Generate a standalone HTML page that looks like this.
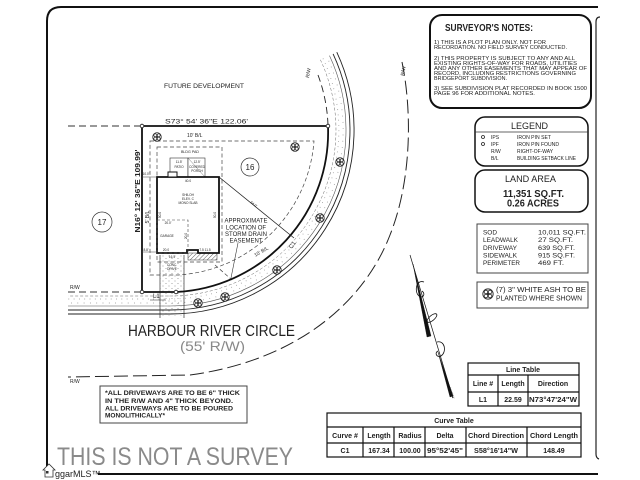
<!DOCTYPE html>
<html><head><meta charset="utf-8">
<style>
html,body{margin:0;padding:0;background:#fff;}
svg{display:block}
text{font-family:"Liberation Sans",sans-serif;fill:#222}
</style></head>
<body>
<svg width="640" height="480" viewBox="0 0 640 480" xmlns="http://www.w3.org/2000/svg">
<defs>
<pattern id="hatch" width="3" height="3" patternUnits="userSpaceOnUse" patternTransform="rotate(45)"><line x1="0" y1="0" x2="0" y2="3" stroke="#333" stroke-width="0.8"/></pattern>
<pattern id="stip" width="6" height="5" patternUnits="userSpaceOnUse"><circle cx="1" cy="1" r="0.45" fill="#777"/><circle cx="4" cy="3.5" r="0.45" fill="#777"/></pattern>
<g id="tree">
<circle r="4.3" fill="#fff" stroke="#333" stroke-width="0.8"/>
<circle cx="-1.7" cy="-1.7" r="1.5" fill="none" stroke="#222" stroke-width="0.7"/>
<circle cx="1.7" cy="-1.7" r="1.5" fill="none" stroke="#222" stroke-width="0.7"/>
<circle cx="-1.7" cy="1.7" r="1.5" fill="none" stroke="#222" stroke-width="0.7"/>
<circle cx="1.7" cy="1.7" r="1.5" fill="none" stroke="#222" stroke-width="0.7"/>
<circle r="0.8" fill="#222"/>
</g>
</defs>

<!-- frame -->
<path d="M47,470 L47,21 Q47,7 61,7 L598,7" fill="none" stroke="#111" stroke-width="2"/>
<line x1="98" y1="474" x2="598" y2="474" stroke="#111" stroke-width="2"/>
<path d="M600,17 Q596,17 596,22 L596,454 Q596,458 599,459" fill="none" stroke="#222" stroke-width="1.2"/>

<!-- Surveyor's notes -->
<rect x="430" y="15" width="161" height="93" rx="12" fill="#fff" stroke="#111" stroke-width="2"/>
<text x="445" y="31" font-size="10" font-weight="bold" textLength="88" lengthAdjust="spacingAndGlyphs">SURVEYOR'S NOTES:</text>
<g font-size="5">
<text x="434" y="44" textLength="112" lengthAdjust="spacingAndGlyphs">1) THIS IS A PLOT PLAN ONLY. NOT FOR</text>
<text x="434" y="49" textLength="133" lengthAdjust="spacingAndGlyphs">RECORDATION. NO FIELD SURVEY CONDUCTED.</text>
<text x="434" y="60" textLength="141" lengthAdjust="spacingAndGlyphs">2) THIS PROPERTY IS SUBJECT TO ANY AND ALL</text>
<text x="434" y="65" textLength="143" lengthAdjust="spacingAndGlyphs">EXISTING RIGHTS-OF-WAY FOR ROADS, UTILITIES</text>
<text x="434" y="70" textLength="153" lengthAdjust="spacingAndGlyphs">AND ANY OTHER EASEMENTS THAT MAY APPEAR OF</text>
<text x="434" y="75" textLength="142" lengthAdjust="spacingAndGlyphs">RECORD, INCLUDING RESTRICTIONS GOVERNING</text>
<text x="434" y="80" textLength="73" lengthAdjust="spacingAndGlyphs">BRIDGEPORT SUBDIVISION.</text>
<text x="434" y="90" textLength="153" lengthAdjust="spacingAndGlyphs">3) SEE SUBDIVISION PLAT RECORDED IN BOOK 1500</text>
<text x="434" y="95" textLength="101" lengthAdjust="spacingAndGlyphs">PAGE 96 FOR ADDITIONAL NOTES.</text>
</g>

<!-- Legend -->
<rect x="475" y="117" width="113" height="49" rx="10" fill="#fff" stroke="#111" stroke-width="1.5"/>
<text x="511" y="129" font-size="9" textLength="37" lengthAdjust="spacingAndGlyphs">LEGEND</text>
<line x1="475" y1="132" x2="588" y2="132" stroke="#333" stroke-width="0.8"/>
<circle cx="483" cy="137" r="1.5" fill="none" stroke="#222" stroke-width="0.8"/>
<circle cx="483" cy="144" r="1.5" fill="none" stroke="#222" stroke-width="0.8"/>
<g font-size="5">
<text x="491" y="139">IPS</text>
<text x="491" y="146">IPF</text>
<text x="491" y="153">R/W</text>
<text x="491" y="160">B/L</text>
<text x="517" y="139" textLength="34" lengthAdjust="spacingAndGlyphs">IRON PIN SET</text>
<text x="517" y="146" textLength="42" lengthAdjust="spacingAndGlyphs">IRON PIN FOUND</text>
<text x="517" y="153" textLength="36" lengthAdjust="spacingAndGlyphs">RIGHT-OF-WAY</text>
<text x="517" y="160" textLength="59" lengthAdjust="spacingAndGlyphs">BUILDING SETBACK LINE</text>
</g>

<!-- Land area -->
<rect x="475" y="170" width="113" height="42" rx="10" fill="#fff" stroke="#111" stroke-width="1.5"/>
<text x="505" y="182" font-size="9" textLength="51" lengthAdjust="spacingAndGlyphs">LAND AREA</text>
<text x="503" y="197" font-size="10" font-weight="bold" textLength="61" lengthAdjust="spacingAndGlyphs">11,351 SQ.FT.</text>
<text x="507" y="206.5" font-size="10" font-weight="bold" textLength="52" lengthAdjust="spacingAndGlyphs">0.26 ACRES</text>

<!-- Area table -->
<rect x="477" y="224" width="111" height="49" fill="#fff" stroke="#444" stroke-width="1"/>
<g font-size="6.5">
<text x="483" y="234.5" textLength="14" lengthAdjust="spacingAndGlyphs">SOD</text>
<text x="483" y="242" textLength="35" lengthAdjust="spacingAndGlyphs">LEADWALK</text>
<text x="483" y="250" textLength="34" lengthAdjust="spacingAndGlyphs">DRIVEWAY</text>
<text x="483" y="257.5" textLength="34" lengthAdjust="spacingAndGlyphs">SIDEWALK</text>
<text x="483" y="265" textLength="37" lengthAdjust="spacingAndGlyphs">PERIMETER</text>
<text x="538" y="234.5" textLength="48" lengthAdjust="spacingAndGlyphs">10,011 SQ.FT.</text>
<text x="538" y="242" textLength="35" lengthAdjust="spacingAndGlyphs">27 SQ.FT.</text>
<text x="538" y="250" textLength="37" lengthAdjust="spacingAndGlyphs">639 SQ.FT.</text>
<text x="538" y="257.5" textLength="37" lengthAdjust="spacingAndGlyphs">915 SQ.FT.</text>
<text x="538" y="265" textLength="26" lengthAdjust="spacingAndGlyphs">469 FT.</text>
</g>

<!-- Tree note -->
<rect x="477" y="282" width="111" height="26" fill="#fff" stroke="#444" stroke-width="1"/>
<use href="#tree" transform="translate(488,294) scale(1.2)"/>
<text x="496" y="292" font-size="7" textLength="90" lengthAdjust="spacingAndGlyphs">(7) 3&quot; WHITE ASH TO BE</text>
<text x="496" y="300.5" font-size="7" textLength="86" lengthAdjust="spacingAndGlyphs">PLANTED WHERE SHOWN</text>

<!-- Line table -->
<g stroke="#111" stroke-width="1.2" fill="none">
<rect x="468" y="363" width="111" height="43"/>
<line x1="468" y1="375" x2="579" y2="375"/>
<line x1="468" y1="392" x2="579" y2="392"/>
<line x1="498" y1="375" x2="498" y2="406"/>
<line x1="528" y1="375" x2="528" y2="406"/>
</g>
<g font-size="7" font-weight="bold" text-anchor="middle">
<text x="523" y="372">Line Table</text>
<text x="483" y="386">Line #</text>
<text x="513" y="386">Length</text>
<text x="553" y="386">Direction</text>
<text x="483" y="402">L1</text>
<text x="513" y="402">22.59</text>
<text x="553" y="402" textLength="48" lengthAdjust="spacingAndGlyphs">N73°47'24&quot;W</text>
</g>

<!-- Curve table -->
<g stroke="#111" stroke-width="1.2" fill="none">
<rect x="327" y="413" width="254" height="44"/>
<line x1="327" y1="427" x2="581" y2="427"/>
<line x1="327" y1="443" x2="581" y2="443"/>
<line x1="363" y1="427" x2="363" y2="457"/>
<line x1="394" y1="427" x2="394" y2="457"/>
<line x1="425" y1="427" x2="425" y2="457"/>
<line x1="466" y1="427" x2="466" y2="457"/>
<line x1="527" y1="427" x2="527" y2="457"/>
</g>
<g font-size="7" font-weight="bold" text-anchor="middle">
<text x="454" y="423">Curve Table</text>
<text x="345" y="438">Curve #</text>
<text x="379" y="438">Length</text>
<text x="410" y="438">Radius</text>
<text x="445" y="438">Delta</text>
<text x="496" y="438" textLength="56" lengthAdjust="spacingAndGlyphs">Chord Direction</text>
<text x="554" y="438" textLength="48" lengthAdjust="spacingAndGlyphs">Chord Length</text>
<text x="345" y="453">C1</text>
<text x="379" y="453">167.34</text>
<text x="410" y="453">100.00</text>
<text x="445" y="453" textLength="36" lengthAdjust="spacingAndGlyphs">95°52'45&quot;</text>
<text x="496" y="453" textLength="44" lengthAdjust="spacingAndGlyphs">S58°16'14&quot;W</text>
<text x="554" y="453">148.49</text>
</g>

<!-- ROAD lines -->
<g fill="none">
<!-- sidewalk dots band -->
<path d="M323,58.5 A169,169 0 0 1 170,299 L68,299" stroke="#999" stroke-width="0.9" stroke-dasharray="0.8 4.5"/>
<path d="M327,57 A173,173 0 0 1 170,303 L68,303" stroke="#999" stroke-width="0.9" stroke-dasharray="0.8 5.5" stroke-dashoffset="2"/>
<path d="M320.4,59.8 A166,166 0 0 1 170,296 L68,296" stroke="#666" stroke-width="0.5" stroke-dasharray="3 2"/>
<path d="M329.5,55.6 A176,176 0 0 1 170,306 L68,306" stroke="#555" stroke-width="0.6"/>
<path d="M333.1,53.9 A180,180 0 0 1 170,310 L68,310" stroke="#222" stroke-width="0.9"/>
<path d="M336.8,52.2 A184,184 0 0 1 170,314 L68,314" stroke="#222" stroke-width="0.9"/>
<!-- near R/W above -->
<path d="M318,75 A160,160 0 0 1 328,125" stroke="#222" stroke-width="0.9" stroke-dasharray="7 4"/>
<!-- far R/W -->
<path d="M402,62 C412,110 412,180 390,235 C365,300 300,360 190,375 L68,377" stroke="#222" stroke-width="1" stroke-dasharray="14 5"/>
<!-- lot line extension left -->
<line x1="68" y1="126" x2="142" y2="126" stroke="#333" stroke-width="0.9" stroke-dasharray="7 4"/>
<line x1="68" y1="292" x2="142" y2="292" stroke="#333" stroke-width="0.9" stroke-dasharray="7 4"/>
</g>

<!-- Driveway -->
<rect x="160" y="255" width="24" height="61" fill="url(#stip)"/>
<line x1="160" y1="255" x2="160" y2="318" stroke="#333" stroke-width="0.7"/>
<line x1="184" y1="255" x2="184" y2="318" stroke="#333" stroke-width="0.7"/>

<!-- Setback / pad dashed -->
<g fill="none" stroke="#444" stroke-width="0.7" stroke-dasharray="4 2.5">
<path d="M150,141 L314,141 A145,145 0 0 1 178,275 L150,275 Z"/>
<rect x="157" y="147" width="65" height="115"/>
<line x1="215" y1="265" x2="232" y2="280" />
</g>

<!-- Lot lines -->
<g fill="none" stroke="#111" stroke-width="1.8">
<line x1="142" y1="126" x2="328" y2="126"/>
<line x1="142" y1="126" x2="142" y2="292"/>
<line x1="142" y1="292" x2="176" y2="292"/>
<path d="M328,126 A160,160 0 0 1 176,292"/>
</g>
<g fill="#fff" stroke="#111" stroke-width="0.8">
<circle cx="142" cy="126" r="1.8"/><circle cx="328" cy="126" r="1.8"/>
<circle cx="142" cy="292" r="1.8"/><circle cx="176" cy="292" r="1.8"/>
</g>

<!-- Patio / porch -->
<g fill="#fff" stroke="#333" stroke-width="0.6">
<rect x="170" y="158" width="18" height="19"/>
<rect x="188" y="158" width="17" height="19"/>
</g>
<line x1="188" y1="158" x2="205" y2="177" stroke="#555" stroke-width="0.4"/>

<!-- House -->
<rect x="188" y="253" width="29" height="7" fill="url(#hatch)" stroke="#333" stroke-width="0.5"/>
<path d="M157,177 L219,177 L219,253 L198,253 L198,250 L187,250 L187,253 L157,253 Z" fill="#fff" stroke="#111" stroke-width="1.8"/>
<rect x="168" y="172" width="9" height="5" fill="#fff" stroke="#111" stroke-width="1"/>
<rect x="157" y="220" width="31" height="33" fill="none" stroke="#444" stroke-width="0.6" stroke-dasharray="3 2"/>
<line x1="142" y1="177" x2="157" y2="177" stroke="#444" stroke-width="0.5"/>
<line x1="142" y1="252" x2="157" y2="252" stroke="#444" stroke-width="0.5"/>

<!-- storm drain diagonal -->
<line x1="219" y1="177" x2="294" y2="238" stroke="#222" stroke-width="0.8"/>
<line x1="238" y1="243" x2="231" y2="278" stroke="#333" stroke-width="0.6"/>

<!-- Trees -->
<use href="#tree" x="157" y="137"/>
<use href="#tree" x="295" y="147"/>
<use href="#tree" x="340" y="162"/>
<use href="#tree" x="320" y="218"/>
<use href="#tree" x="277" y="270"/>
<use href="#tree" x="225" y="297"/>
<use href="#tree" x="198" y="303"/>

<!-- Lot numbers -->
<circle cx="250" cy="167" r="9" fill="#fff" stroke="#333" stroke-width="0.7"/>
<text x="250" y="170" font-size="8" text-anchor="middle">16</text>
<circle cx="102" cy="222" r="10" fill="#fff" stroke="#333" stroke-width="0.7"/>
<text x="102" y="225" font-size="8" text-anchor="middle">17</text>

<!-- Plot labels -->
<text x="164" y="88" font-size="6" textLength="80" lengthAdjust="spacingAndGlyphs">FUTURE DEVELOPMENT</text>
<text x="165" y="123.5" font-size="6" textLength="83" lengthAdjust="spacingAndGlyphs">S73° 54' 36&quot;E    122.06'</text>
<text x="187" y="137" font-size="5">10' B/L</text>
<text x="190" y="153" font-size="3.6" text-anchor="middle">BLDG PAD</text>
<g font-size="3.2" text-anchor="middle">
<text x="179" y="163">11.5'</text><text x="179" y="168">PATIO</text>
<text x="197" y="163">12.5'</text><text x="197" y="168">COVERED</text><text x="197" y="172">PORCH</text>
<text x="188" y="182">40.0</text>
<text x="188" y="196">SHILOH</text>
<text x="188" y="200">ELEV. C</text>
<text x="188" y="204">MONO SLAB</text>
<text x="168" y="224">20.0'</text>
<text x="167" y="237">GARAGE</text>
<text x="166" y="251">20.0</text>
<text x="205" y="251">7.5  11.5</text>
<text x="172" y="258">16.5</text>
<text x="172" y="266">CONC.</text>
<text x="172" y="270">DRIVE</text>
<text x="146" y="175">10.0'</text>
<text x="146" y="251">8.8'</text>
</g>
<text font-size="3.2" text-anchor="middle" transform="translate(161,215) rotate(-90)">50.0</text>
<text font-size="3.2" text-anchor="middle" transform="translate(216,215) rotate(-90)">50.0</text>
<text font-size="3.2" text-anchor="middle" transform="translate(187,236) rotate(-90)">20.0</text>
<text font-size="7" font-weight="bold" text-anchor="middle" textLength="83" lengthAdjust="spacingAndGlyphs" transform="translate(140,191) rotate(-90)">N16° 12' 36&quot;E    109.99'</text>
<text font-size="5" text-anchor="middle" transform="translate(149,217) rotate(-90)">5' B/L</text>
<g font-size="6" text-anchor="middle">
<text x="246" y="222.5">APPROXIMATE</text>
<text x="246" y="229.5">LOCATION OF</text>
<text x="246" y="236">STORM DRAIN</text>
<text x="246" y="242.5">EASEMENT</text>
</g>
<text font-size="6" text-anchor="middle" transform="translate(294,246) rotate(-55)">C1</text>
<text font-size="5" text-anchor="middle" transform="translate(262,253) rotate(-30)">10' B/L</text>
<text font-size="3.5" text-anchor="middle" transform="translate(253,205) rotate(39)">64.0'</text>
<text x="153" y="298" font-size="6">L1</text>
<line x1="150" y1="300" x2="166" y2="300" stroke="#222" stroke-width="0.5"/>
<text x="70" y="289" font-size="5">R/W</text>
<text x="70" y="383" font-size="5">R/W</text>
<text font-size="5" transform="translate(309,78) rotate(-80)">R/W</text>
<text font-size="5" transform="translate(404,76) rotate(-80)">R/W</text>

<!-- Street name -->
<text x="128" y="336" font-size="16" textLength="167" lengthAdjust="spacingAndGlyphs" fill="#1a1a1a">HARBOUR RIVER CIRCLE</text>
<text x="180" y="351" font-size="14" textLength="65" lengthAdjust="spacingAndGlyphs" style="fill:#888">(55' R/W)</text>

<!-- Driveway note -->
<rect x="100" y="386" width="147" height="37" fill="#fff" stroke="#444" stroke-width="1"/>
<g font-size="6.5" font-weight="bold">
<text x="105" y="395" textLength="135" lengthAdjust="spacingAndGlyphs">*ALL DRIVEWAYS ARE TO BE 6&quot; THICK</text>
<text x="105" y="403" textLength="128" lengthAdjust="spacingAndGlyphs">IN THE R/W AND 4&quot; THICK BEYOND.</text>
<text x="105" y="410.5" textLength="128" lengthAdjust="spacingAndGlyphs">ALL DRIVEWAYS ARE TO BE POURED</text>
<text x="105" y="417.5" textLength="60" lengthAdjust="spacingAndGlyphs">MONOLITHICALLY*</text>
</g>

<!-- North arrow -->
<g stroke="#111" fill="none">
<line x1="410" y1="255" x2="453" y2="398" stroke-width="0.7"/>
<polygon points="413,264 431,336 427,337" fill="#111" stroke-width="0.4"/>
<polygon points="438,352 453,396 450,397" fill="#111" stroke-width="0.4"/>
<path d="M424,282 C416,279 414,292 419,296 C423,299 426,294 422,291" stroke-width="0.8"/>
<ellipse cx="432" cy="318" rx="6" ry="2.5" transform="rotate(-40 432 318)" stroke-width="0.8"/>
<path d="M437,342 C445,340 447,352 441,356 C437,358 434,353 438,351" stroke-width="0.8"/>
</g>
<text font-size="3" transform="translate(449,388) rotate(72)">N 16°12'</text>

<!-- Not a survey -->
<text x="57" y="465" font-size="25" textLength="236" lengthAdjust="spacingAndGlyphs" style="fill:#8a8a8a">THIS IS NOT A SURVEY</text>

<!-- logo -->
<g stroke="#333" stroke-width="0.8" fill="#fff">
<path d="M43,470 L49,464 L55,470 L53,470 L53,477 L45,477 L45,470 Z"/>
</g>
<rect x="46" y="471" width="2.5" height="2.5" fill="#333"/>
<text x="55" y="477" font-size="9" fill="#333">ggarMLS™</text>
</svg>
</body></html>
